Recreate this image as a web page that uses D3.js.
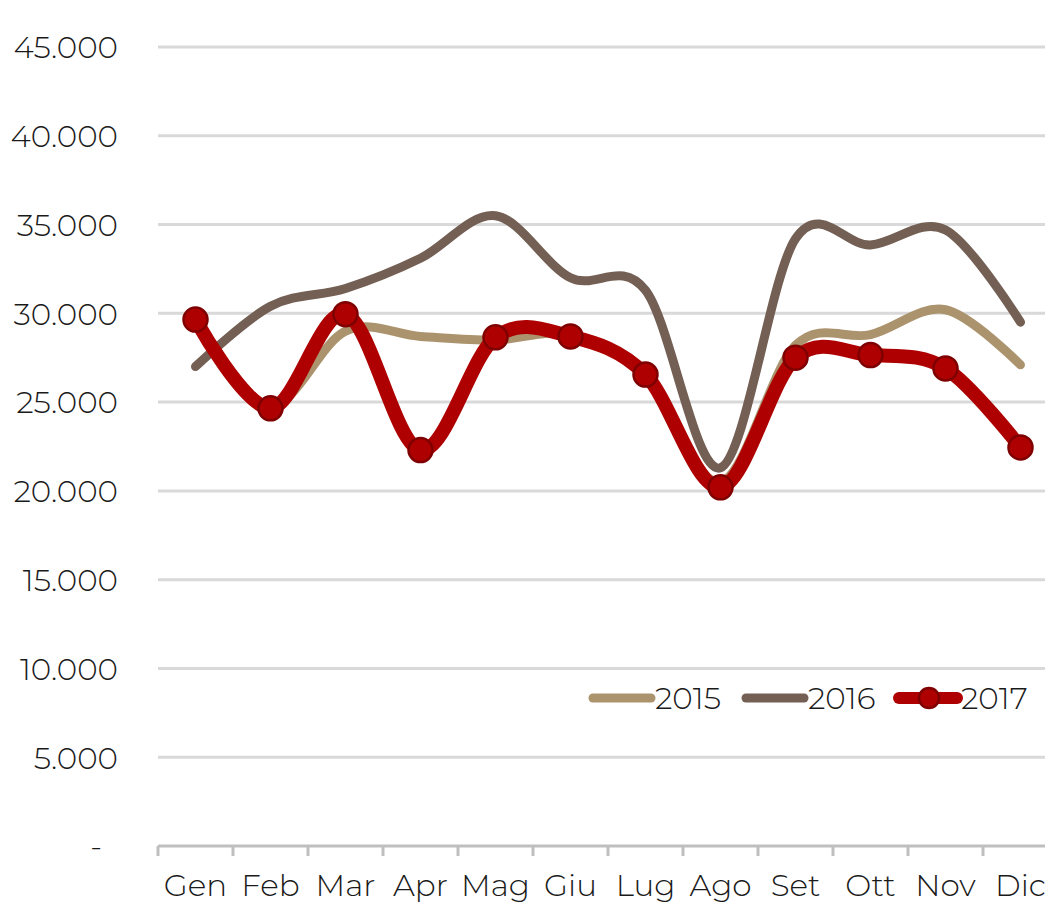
<!DOCTYPE html>
<html>
<head>
<meta charset="utf-8">
<script src="https://cdn.jsdelivr.net/npm/d3@7"></script>
<style>
  body { margin: 0; background: #fff; }
  text { font-family: Montserrat, Lato, "Open Sans", sans-serif; fill: #1a1a1a; }
</style>
</head>
<body>
<div id="chart"></div>
<script>
// chart values
let months = ["Gen","Feb","Mar","Apr","Mag","Giu","Lug","Ago","Set","Ott","Nov","Dic"];
let v2015 = [29500, 24800, 29000, 28700, 28500, 28800, 26500, 20500, 28200, 28800, 30200, 27100];
let v2016 = [27000, 30400, 31400, 33100, 35500, 32000, 31300, 21300, 34200, 33850, 34700, 29500];
let v2017 = [29650, 24650, 29950, 22300, 28650, 28700, 26550, 20200, 27500, 27650, 26900, 22450];
let yTicks = [0, 5000, 10000, 15000, 20000, 25000, 30000, 35000, 40000, 45000];
let seriesNames = ["2015", "2016", "2017"];

let width = 1045, height = 903;
let margin = {top: 47, left: 158, bottom: 57};
let fontSize = 31;

let svg = d3.select("#chart").append("svg")
    .attr("width", width)
    .attr("height", height);

let x = d3.scaleBand().domain(months).range([margin.left, margin.left + 75 * months.length]);
let y = d3.scaleLinear().domain([0, 45000]).range([height - margin.bottom, margin.top]);
let cx = function(m){ return x(m) + x.bandwidth() / 2; };

let fmt = function(d){
    if (d === 0) return "-";
    return d3.format(",")(d).replace(/,/g, ".");
};

//gridlines
svg.append("g")
    .selectAll("line")
    .data(yTicks.filter(function(d){ return d > 0; }))
    .join("line")
    .attr("x1", margin.left)
    .attr("x2", width)
    .attr("y1", function(d){ return y(d); })
    .attr("y2", function(d){ return y(d); })
    .attr("stroke", "#d9d9d9")
    .attr("stroke-width", 3);

//y labels
let yAxis = svg.append("g")
    .attr("transform", "translate(118,0)")
    .call(d3.axisLeft(y).tickValues(yTicks).tickFormat(fmt).tickSize(0).tickPadding(0));
yAxis.select(".domain").remove();
yAxis.selectAll("text")
    .attr("font-size", fontSize)
    .attr("font-weight", 300)
    .attr("fill", "#1a1a1a")
    .attr("dy", "0.35em")
    .attr("x", function(d){ return d === 0 ? -16 : 0; });

//x axis
let xAxisY = y(0);
svg.append("line")
    .attr("x1", margin.left).attr("x2", width)
    .attr("y1", xAxisY).attr("y2", xAxisY)
    .attr("stroke", "#bfbfbf").attr("stroke-width", 3);
svg.append("g")
    .selectAll("line")
    .data(months)
    .join("line")
    .attr("x1", function(d){ return x(d); })
    .attr("x2", function(d){ return x(d); })
    .attr("y1", xAxisY)
    .attr("y2", xAxisY + 10)
    .attr("stroke", "#bfbfbf").attr("stroke-width", 3);
svg.append("g")
    .selectAll("text")
    .data(months)
    .join("text")
    .attr("x", function(d){ return cx(d); })
    .attr("y", 896)
    .attr("text-anchor", "middle")
    .attr("font-size", fontSize)
    .attr("font-weight", 300)
    .text(function(d){ return d; });

//lines
let line = d3.line()
    .x(function(d, i){ return cx(months[i]); })
    .y(function(d){ return y(d); })
    .curve(d3.curveCatmullRom.alpha(0));

let styles = [
    {name: "2015", values: v2015, color: "#ab936d", width: 9},
    {name: "2016", values: v2016, color: "#735f54", width: 9},
    {name: "2017", values: v2017, color: "#ae0000", width: 14}
];

styles.forEach(function(s){
    svg.append("path")
        .datum(s.values)
        .attr("d", line)
        .attr("fill", "none")
        .attr("stroke", s.color)
        .attr("stroke-width", s.width)
        .attr("stroke-linecap", "round")
        .attr("stroke-linejoin", "round");
});

//markers for 2017
svg.append("g")
    .selectAll("circle")
    .data(v2017)
    .join("circle")
    .attr("cx", function(d, i){ return cx(months[i]); })
    .attr("cy", function(d){ return y(d); })
    .attr("r", 12)
    .attr("fill", "#ae0000")
    .attr("stroke", "#7f0000")
    .attr("stroke-width", 2.5);

//legend
let legendX = [593, 746, 899];
let legend = svg.append("g");
styles.forEach(function(s, i){
    let g = legend.append("g").attr("transform", "translate(" + legendX[i] + ",698)");
    g.append("line")
        .attr("x1", 0).attr("x2", 58)
        .attr("stroke", s.color)
        .attr("stroke-width", s.name === "2017" ? 12 : 9)
        .attr("stroke-linecap", "round");
    if (s.name === "2017") {
        g.append("circle")
            .attr("cx", 30).attr("r", 10)
            .attr("fill", "#ae0000")
            .attr("stroke", "#7f0000")
            .attr("stroke-width", 2.5);
    }
    g.append("text")
        .attr("x", 62)
        .attr("dy", "0.35em")
        .attr("font-size", fontSize)
        .attr("font-weight", 300)
        .text(seriesNames[i]);
});
</script>
</body>
</html>
